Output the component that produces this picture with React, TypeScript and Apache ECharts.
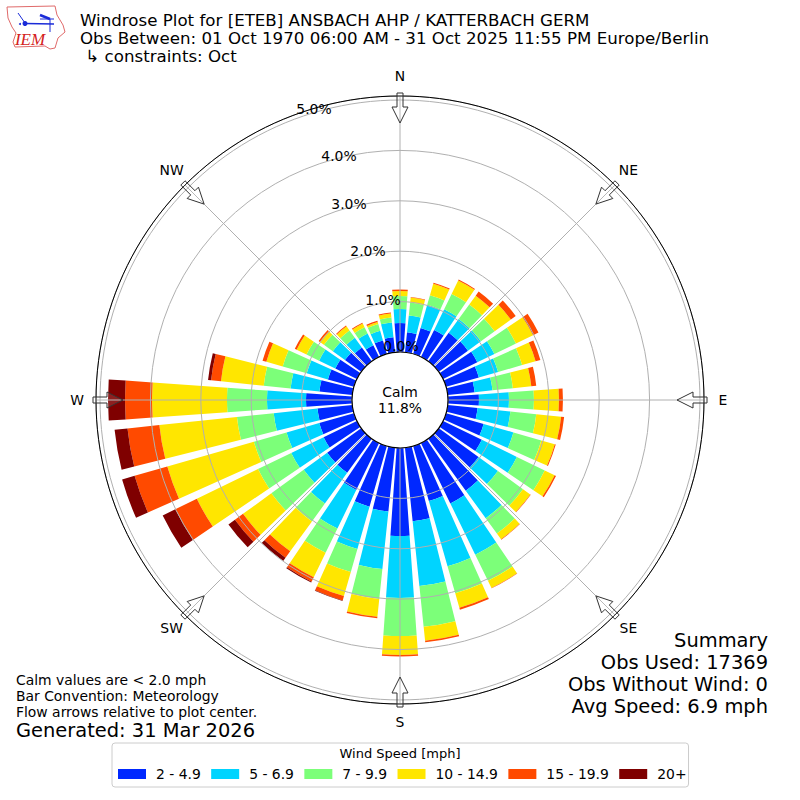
import React, { useEffect, useRef } from "react";
import * as echarts from "echarts";

const directions = Array.from({ length: 36 }, (_, i) => String(i * 10));
const speedBins = ["2 - 4.9", "5 - 6.9", "7 - 9.9", "10 - 14.9", "15 - 19.9", "20+"];
const binColors = ["#0028ff", "#00d4ff", "#7cff79", "#ffe600", "#ff4a00", "#7f0000"];

const bin1 = [.575,.397,.536,.595,.694,.714,.754,.675,.536,.615,.595,.774,.853,.972,1.27,1.329,1.131,1.468,1.746,1.27,1.25,1.032,.833,.833,.734,.714,.694,.913,.655,.536,.476,.397,.337,.258,.278,.298];
const bin2 = [.278,.337,.476,.456,.337,.317,.377,.397,.357,.595,.655,.615,.774,.476,.675,1.131,1.349,1.29,1.23,1.151,.873,.853,.754,.575,.714,.675,.873,.774,.575,.437,.357,.298,.238,.258,.198,.298];
const bin3 = [.258,.258,.198,.337,.357,.337,.476,.496,.407,.496,.516,.575,.615,.615,.377,.575,.556,.813,.754,.595,.476,.536,.437,.794,.734,.675,.734,.794,.536,.496,.278,.218,.179,.139,.139,.099];
const bin4 = [.099,.099,.238,.298,.218,.397,.377,.278,.367,.496,.496,.278,.218,.179,.139,.159,.298,.278,.377,.357,.496,.536,.734,.694,1.349,1.786,1.548,1.488,.853,.337,.218,.099,.099,.079,.04,.079];
const bin5 = [.03,.01,.02,.02,.099,.119,.119,.099,.099,.079,.06,.02,.03,.01,.01,.01,.04,.03,.03,.03,.089,.099,.159,.198,.476,.675,.635,.536,.198,.079,.04,.03,.02,.02,.03,.02];
const bin6 = [0,0,0,0,0,0,0,0,0,0,0,0,0,0,0,0,0,0,0,0,.01,.02,.079,.159,.278,.258,.258,.337,.06,0,0,0,0,0,0,0];
const binValues = [bin1, bin2, bin3, bin4, bin5, bin6];

const radialTicks = [
  { text: "0.0%", x: 401, y: 346 },
  { text: "1.0%", x: 383, y: 300 },
  { text: "2.0%", x: 368, y: 251 },
  { text: "3.0%", x: 349, y: 204 },
  { text: "4.0%", x: 339, y: 156 },
  { text: "5.0%", x: 314, y: 109 },
];
const compass = ["N", "NE", "E", "SE", "S", "SW", "W", "NW"];
const compassDy = [-1, -2, 0, 0, -1, 0, 0, -2];
const titleLines = [
  "Windrose Plot for [ETEB] ANSBACH AHP / KATTERBACH GERM",
  "Obs Between: 01 Oct 1970 06:00 AM - 31 Oct 2025 11:55 PM Europe/Berlin",
  " ↳ constraints: Oct",
];
const summaryLines = ["Summary", "Obs Used: 17369", "Obs Without Wind: 0", "Avg Speed: 6.9 mph"];
const noteLines = ["Calm values are < 2.0 mph", "Bar Convention: Meteorology", "Flow arrows relative to plot center."];

const FONT = '"DejaVu Sans"';
const CX = 400;
const CY = 400;

function txt(text: string, x: number, y: number, size: number, align = "left", extra: any = {}) {
  return {
    type: "text",
    z: 20,
    silent: true,
    style: { text, x, y, fontFamily: FONT, fontSize: size, fill: "#000", textAlign: align, textVerticalAlign: "middle", ...extra },
  };
}

function arrowPoints(deg: number) {
  const a = (deg * Math.PI) / 180;
  const prof: number[][] = [[307, -3], [293, -3], [293, -8], [277, 0], [293, 8], [293, 3], [307, 3]];
  return prof.map(([r, w]) => [
    CX + r * Math.sin(a) + w * Math.cos(a),
    CY - r * Math.cos(a) + w * Math.sin(a),
  ]);
}

function logo() {
  const outline = [[7,7],[55,6],[57,15],[63,25],[65,32],[58,38],[55,48],[50,49],[45,46],[15,47],[13,42],[16,33],[12,27],[8,18],[7,7]];
  const blue = "#1a2bd8";
  return [
    { type: "polyline", z: 20, silent: true, shape: { points: outline }, style: { stroke: "#e06a6a", lineWidth: 1, fill: "none" } },
    { type: "line", z: 20, silent: true, shape: { x1: 25, y1: 23.5, x2: 54, y2: 24 }, style: { stroke: blue, lineWidth: 1.5 } },
    { type: "line", z: 20, silent: true, shape: { x1: 18, y1: 13, x2: 25, y2: 23 }, style: { stroke: blue, lineWidth: 1 } },
    { type: "line", z: 20, silent: true, shape: { x1: 40, y1: 15, x2: 50, y2: 19 }, style: { stroke: blue, lineWidth: 2.5 } },
    { type: "line", z: 20, silent: true, shape: { x1: 40, y1: 19, x2: 54, y2: 19 }, style: { stroke: blue, lineWidth: 1 } },
    { type: "line", z: 20, silent: true, shape: { x1: 50, y1: 19, x2: 50, y2: 32 }, style: { stroke: blue, lineWidth: 1 } },
    { type: "circle", z: 20, silent: true, shape: { cx: 25, cy: 23.5, r: 2.5 }, style: { fill: blue } },
    { type: "circle", z: 20, silent: true, shape: { cx: 20, cy: 24, r: 1 }, style: { fill: blue } },
    { type: "text", z: 20, silent: true, style: { text: "IEM", x: 30, y: 39, fontFamily: '"Liberation Serif"', fontStyle: "italic", fontSize: 17, fill: "#d42020", textAlign: "center", textVerticalAlign: "middle" } },
  ];
}

export default function App() {
  const ref = useRef<HTMLDivElement>(null);
  useEffect(() => {
    const chart = echarts.init(ref.current!, undefined, { renderer: "svg" });
    const graphics: any[] = [
      ...logo(),
      ...titleLines.map((t, i) => txt(t, 80, 20 + i * 18, 16.67)),
      ...radialTicks.map((t) => txt(t.text, t.x, t.y, 13.9, "center")),
      ...compass.map((name, i) => {
        const a = (i * 45 * Math.PI) / 180;
        return txt(name, CX + 323 * Math.sin(a), CY - 323 * Math.cos(a) + compassDy[i], 13.9, "center");
      }),
      { type: "circle", z: 15, silent: true, shape: { cx: CX, cy: CY, r: 48 }, style: { fill: "#fff", stroke: "#000", lineWidth: 1.2 } },
      { type: "circle", z: 15, silent: true, shape: { cx: CX, cy: CY, r: 304 }, style: { fill: "none", stroke: "#000", lineWidth: 1 } },
      txt("Calm", CX, 392, 13.9, "center"),
      txt("11.8%", CX, 408, 13.9, "center"),
      ...compass.map((_, i) => ({
        type: "polygon",
        z: 16,
        silent: true,
        shape: { points: arrowPoints(i * 45) },
        style: { fill: "rgba(255,255,255,0.12)", stroke: "#333", lineWidth: 1 },
      })),
      ...summaryLines.map((t, i) => txt(t, 768, 640 + i * 22, 19.44, "right")),
      ...noteLines.map((t, i) => txt(t, 16, 680 + i * 16, 13.9)),
      txt("Generated: 31 Mar 2026", 16, 730, 19.44),
      txt("Wind Speed [mph]", 400, 753, 13, "center"),
    ];
    chart.setOption({
      animation: false,
      backgroundColor: "#fff",
      polar: [
        { center: [CX, CY], radius: [48, 304] },
        { center: [CX, CY], radius: [48, 304] },
      ],
      angleAxis: [
        {
          polarIndex: 0,
          type: "category",
          data: directions,
          startAngle: 95,
          axisLine: { show: false },
          axisTick: { show: false },
          axisLabel: { show: false },
          splitLine: { show: false },
          z: 5,
        },
        {
          polarIndex: 1,
          type: "value",
          min: 0,
          max: 360,
          interval: 45,
          startAngle: 90,
          axisLine: { show: false },
          axisTick: { show: false },
          axisLabel: { show: false },
          splitLine: { show: true, lineStyle: { color: "#b0b0b0", width: 1 } },
          z: 5,
        },
      ],
      radiusAxis: [
        {
          polarIndex: 0,
          type: "value",
          min: 0,
          max: 5.08,
          interval: 1,
          axisLine: { show: false },
          axisTick: { show: false },
          axisLabel: { show: false },
          splitLine: { show: true, lineStyle: { color: "#b0b0b0", width: 1 } },
          z: 5,
        },
        {
          polarIndex: 1,
          type: "value",
          min: 0,
          max: 1,
          axisLine: { show: false },
          axisTick: { show: false },
          axisLabel: { show: false },
          splitLine: { show: false },
          z: 5,
        },
      ],
      legend: {
        left: 112,
        top: 743,
        data: speedBins,
        icon: "rect",
        itemWidth: 28,
        itemHeight: 10,
        itemGap: 10.4,
        selectedMode: false,
        padding: [24, 2, 6, 6],
        borderColor: "#ccc",
        borderWidth: 1,
        borderRadius: 3,
        textStyle: { fontFamily: FONT, fontSize: 13.9, color: "#000", padding: [0, 0, 0, 5] },
      },
      series: speedBins.map((name, i) => ({
        name,
        type: "bar",
        coordinateSystem: "polar",
        polarIndex: 0,
        stack: "wind",
        barWidth: "81%",
        silent: true,
        z: 2,
        itemStyle: { color: binColors[i] },
        data: binValues[i],
      })),
      graphic: { elements: graphics },
    });
    return () => chart.dispose();
  }, []);
  return <div ref={ref} style={{ position: "absolute", left: 0, top: 0, width: 800, height: 800 }} />;
}
